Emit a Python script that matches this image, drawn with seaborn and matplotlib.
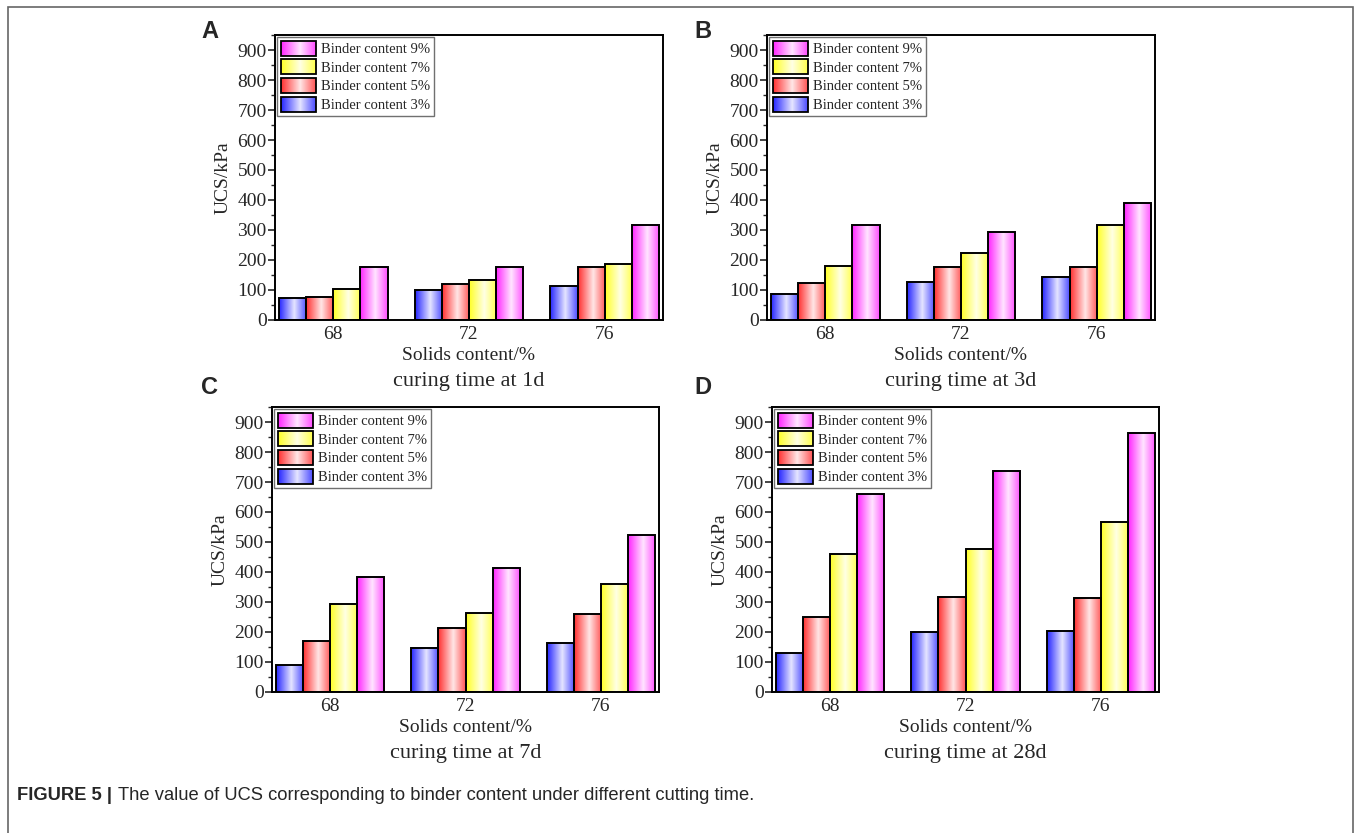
import matplotlib
matplotlib.use('Agg')
import matplotlib.pyplot as plt
from matplotlib.legend_handler import HandlerBase
from matplotlib.image import BboxImage
from matplotlib.transforms import Bbox, TransformedBbox
from matplotlib.patches import Rectangle
from matplotlib.ticker import MultipleLocator
from matplotlib.colors import to_rgb
import seaborn as sns
import numpy as np
import pandas as pd

solids = ['68', '72', '76']
binders = ['Binder content 3%', 'Binder content 5%', 'Binder content 7%', 'Binder content 9%']
bar_colors = ['#2626ff', '#ff3030', '#ffff26', '#ff26ff']

# rows: binder 3%, 5%, 7%, 9%  | columns: solids 68, 72, 76
ucs_1d = [[72, 100, 113], [78, 120, 178], [105, 133, 187], [178, 178, 317]]
ucs_3d = [[87, 126, 144], [122, 177, 176], [181, 223, 317], [316, 292, 390]]
ucs_7d = [[90, 148, 165], [170, 215, 260], [294, 263, 360], [385, 415, 522]]
ucs_28d = [[130, 200, 205], [250, 318, 315], [460, 477, 567], [660, 738, 865]]

panels = ['A', 'B', 'C', 'D']
curing = ['curing time at 1d', 'curing time at 3d', 'curing time at 7d', 'curing time at 28d']
all_ucs = [ucs_1d, ucs_3d, ucs_7d, ucs_28d]

sns.set_style('ticks')
plt.rcParams['font.family'] = ['Liberation Serif', 'DejaVu Serif']
plt.rcParams['axes.linewidth'] = 1.4


def gradient(color, n=64):
    # shaded bar fill: full colour at the edges, pale near the middle
    c = np.array(to_rgb(color))
    t = np.linspace(0, 1, n)
    s = np.where(t < 0.55, 1 - (t / 0.55) * 0.88, 0.12 + (t - 0.55) / 0.45 * 0.7)
    img = 1 - s[:, None] * (1 - c[None, :])
    return img[None, :, :]


class GradHandler(HandlerBase):
    def __init__(self, color):
        super().__init__()
        self.color = color

    def create_artists(self, legend, orig_handle, xdescent, ydescent, width, height, fontsize, trans):
        bb = TransformedBbox(Bbox.from_bounds(-xdescent, -ydescent, width, height), trans)
        img = BboxImage(bb, interpolation='bilinear')
        img.set_data(gradient(self.color))
        edge = Rectangle((-xdescent, -ydescent), width, height, facecolor='none',
                         edgecolor='black', linewidth=1.3, transform=trans)
        return [img, edge]


W, H = 1356, 833
fig = plt.figure(figsize=(W / 100, H / 100), dpi=100)

# axes boxes in pixels: left, top, right, bottom
boxes = [(275, 35, 663, 320), (767, 35, 1155, 320), (272, 407, 659, 692), (772, 407, 1159, 692)]
letter_pos = [(210, 32), (703, 32), (210, 387), (703, 387)]

for k in range(4):
    l, t, r, b = boxes[k]
    ax = fig.add_axes([l / W, 1 - b / H, (r - l) / W, (b - t) / H])
    rows = []
    for i, bname in enumerate(binders):
        for j, s in enumerate(solids):
            rows.append({'solids': s, 'binder': bname, 'ucs': all_ucs[k][i][j]})
    df = pd.DataFrame(rows)
    sns.barplot(data=df, x='solids', y='ucs', hue='binder', hue_order=binders,
                palette=bar_colors, width=0.8, edgecolor='black', linewidth=1.4,
                legend=False, ax=ax)

    for cont, col in zip(ax.containers, bar_colors):
        for p in cont.patches:
            x0, y0, w, h = p.get_x(), p.get_y(), p.get_width(), p.get_height()
            ax.imshow(gradient(col), extent=[x0, x0 + w, y0, y0 + h], aspect='auto',
                      interpolation='bilinear', zorder=2)
            p.set_facecolor('none')
            p.set_zorder(3)

    ax.set_xlim(-0.43, 2.43)
    ax.set_ylim(0, 950)
    ax.yaxis.set_major_locator(MultipleLocator(100))
    ax.yaxis.set_minor_locator(MultipleLocator(50))
    ax.tick_params(axis='y', which='major', direction='out', length=5, width=1.2, labelsize=14, pad=1)
    ax.tick_params(axis='y', which='minor', direction='out', length=3, width=1.0)
    ax.tick_params(axis='x', length=0, labelsize=14, pad=4)
    for sp in ax.spines.values():
        sp.set_visible(True)
        sp.set_linewidth(1.4)
        sp.set_color('black')

    ax.set_xlabel('Solids content/%', fontsize=14, labelpad=3)
    ax.set_ylabel('UCS/kPa', fontsize=14, labelpad=4)
    ax.text(0.5, -0.215, curing[k], transform=ax.transAxes, ha='center', va='center', fontsize=16)

    handles = [Rectangle((0, 0), 1, 1) for _ in binders]
    hmap = {h: GradHandler(c) for h, c in zip(handles, bar_colors)}
    leg = ax.legend(handles[::-1], binders[::-1], handler_map=hmap, loc='upper left',
                    fontsize=10.5, frameon=True, fancybox=False, framealpha=1,
                    edgecolor='#707070', borderpad=0.25, labelspacing=0.22,
                    handlelength=2.4, handleheight=1.2, handletextpad=0.35,
                    borderaxespad=0.15)
    leg.get_frame().set_linewidth(1.0)

    lx, ly = letter_pos[k]
    fig.text(lx / W, 1 - ly / H, panels[k], fontsize=17, fontweight='bold',
             family=['Liberation Sans', 'DejaVu Sans'], ha='center', va='center')

# frame round the page, open at the bottom edge
fig.patches.append(Rectangle((8 / W, -0.02), (1353 - 8) / W, 1 - 7 / H + 0.02,
                             transform=fig.transFigure, facecolor='none',
                             edgecolor='#666666', linewidth=1.2))

t1 = fig.text(17 / W, 1 - 795 / H, 'FIGURE 5 |', fontsize=13.2, fontweight='bold',
              family=['Liberation Sans', 'DejaVu Sans'], ha='left', va='center')
plt.annotate('The value of UCS corresponding to binder content under different cutting time.',
             xy=(1, 0.5), xycoords=t1, xytext=(4, 0), textcoords='offset points',
             ha='left', va='center', fontsize=13.2, family=['Liberation Sans', 'DejaVu Sans'],
             annotation_clip=False)

plt.savefig('out.png', dpi=100)
